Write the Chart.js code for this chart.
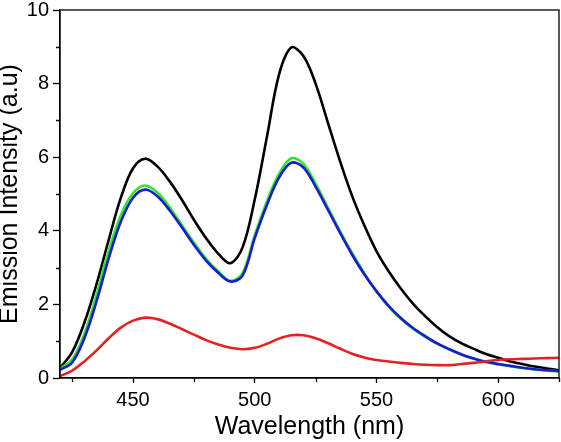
<!DOCTYPE html>
<html>
<head>
<meta charset="utf-8">
<script src="https://cdn.jsdelivr.net/npm/chart.js@4"></script>
<style>
  html, body { margin: 0; padding: 0; background: #fff; }
  #wrap { width: 561px; height: 442px; }
</style>
</head>
<body>
<div id="wrap"><canvas id="chartjs" width="561" height="442"></canvas></div>
<script>
// wavelength (nm)
const wavelengths = [420, 425, 430, 435, 440, 445, 450, 455, 460, 465, 470, 475, 480, 485, 490, 495,
  500, 505, 510, 515, 520, 525, 530, 535, 540, 545, 550, 555, 560, 565, 570, 575, 580, 585, 590,
  595, 600, 605, 610, 615, 620, 625];

const blackSeries = [0.27, 0.70, 1.50, 2.55, 3.75, 4.90, 5.70, 5.96, 5.75, 5.35, 4.85, 4.30, 3.80, 3.38, 3.12, 3.55,
  4.85, 6.55, 8.25, 8.98, 8.75, 8.00, 6.95, 5.90, 4.95, 4.15, 3.45, 2.90, 2.43, 2.02, 1.68, 1.38, 1.13, 0.94, 0.79,
  0.65, 0.55, 0.45, 0.38, 0.31, 0.26, 0.21];

const greenSeries = [0.25, 0.50, 1.20, 2.25, 3.45, 4.42, 5.02, 5.23, 5.04, 4.64, 4.16, 3.68, 3.24, 2.90, 2.64, 2.85,
  3.88, 4.80, 5.55, 5.97, 5.82, 5.28, 4.64, 4.00, 3.40, 2.85, 2.35, 1.94, 1.61, 1.34, 1.12, 0.93, 0.77, 0.63, 0.52,
  0.43, 0.37, 0.32, 0.27, 0.23, 0.20, 0.18];

const blueSeries = [0.22, 0.42, 1.08, 2.08, 3.25, 4.25, 4.90, 5.12, 4.94, 4.56, 4.10, 3.62, 3.19, 2.86, 2.62, 2.78,
  3.80, 4.70, 5.45, 5.85, 5.72, 5.20, 4.58, 3.95, 3.35, 2.82, 2.36, 1.96, 1.63, 1.36, 1.14, 0.94, 0.78, 0.64, 0.53,
  0.44, 0.38, 0.33, 0.28, 0.24, 0.21, 0.19];

const redSeries = [0.05, 0.20, 0.45, 0.75, 1.08, 1.37, 1.56, 1.64, 1.60, 1.48, 1.33, 1.18, 1.03, 0.91, 0.82, 0.78,
  0.82, 0.93, 1.07, 1.16, 1.16, 1.08, 0.95, 0.80, 0.66, 0.56, 0.49, 0.45, 0.41, 0.38, 0.36, 0.35, 0.35, 0.38, 0.41,
  0.45, 0.49, 0.51, 0.52, 0.53, 0.54, 0.55];

// axis ticks
const xMajorTicks = [450, 500, 550, 600];
const xMinorTicks = [425, 475, 525, 575, 625];
const yMajorTicks = [0, 2, 4, 6, 8, 10];
const yMinorTicks = [1, 3, 5, 7, 9];

const toPoints = (ys) => wavelengths.map((x, i) => ({ x: x, y: ys[i] }));

// minor ticks + box frame around the plot
const framePlugin = {
  id: 'frame',
  afterDraw(chart) {
    const c = chart.ctx;
    const a = chart.chartArea;
    const xs = chart.scales.x, ys = chart.scales.y;
    c.save();
    c.strokeStyle = '#000';
    c.lineWidth = 1.3;
    c.beginPath();
    xMinorTicks.forEach(v => {
      const px = Math.round(xs.getPixelForValue(v)) + 0.5;
      c.moveTo(px, a.bottom); c.lineTo(px, a.bottom + 4);
    });
    yMinorTicks.forEach(v => {
      const py = Math.round(ys.getPixelForValue(v)) + 0.5;
      c.moveTo(a.left, py); c.lineTo(a.left - 4, py);
    });
    c.stroke();
    c.strokeRect(a.left, a.top, a.right - a.left, a.bottom - a.top);
    c.restore();
  }
};

const line = { pointRadius: 0, borderWidth: 2.6, tension: 0.35, fill: false };

const ctx = document.getElementById('chartjs').getContext('2d');
const myChart = new Chart(ctx, {
  type: 'line',
  data: {
    datasets: [
      { ...line, label: 'red', data: toPoints(redSeries), borderColor: '#e52222', order: 1 },
      { ...line, label: 'blue', data: toPoints(blueSeries), borderColor: '#1a1ad0', order: 2 },
      { ...line, label: 'green', data: toPoints(greenSeries), borderColor: '#2ee62e', order: 3 },
      { ...line, label: 'black', data: toPoints(blackSeries), borderColor: '#000000', order: 4 }
    ]
  },
  options: {
    responsive: false,
    animation: false,
    events: [],
    layout: { padding: { top: 10, right: 2, left: 0, bottom: 0 } },
    plugins: { legend: { display: false }, tooltip: { enabled: false } },
    scales: {
      x: {
        type: 'linear',
        min: 420,
        max: 625,
        afterBuildTicks: s => { s.ticks = xMajorTicks.map(v => ({ value: v })); },
        afterFit: s => { s.height = 64; s.paddingLeft = 0; s.paddingRight = 0; },
        border: { display: true, color: '#000', width: 1.3 },
        grid: { drawOnChartArea: false, drawTicks: true, tickLength: 5, tickColor: '#000', tickWidth: 1.3 },
        ticks: { color: '#000', padding: 7, maxRotation: 0, font: { family: 'Liberation Sans', size: 20, lineHeight: 1.0 } },
        title: {
          display: true,
          text: 'Wavelength (nm)',
          color: '#000',
          padding: 0,
          font: { family: 'Liberation Sans', size: 25, lineHeight: 1.16 }
        }
      },
      y: {
        min: 0,
        max: 10,
        afterBuildTicks: s => { s.ticks = yMajorTicks.map(v => ({ value: v })); },
        afterFit: s => { s.width = 60; s.paddingTop = 0; s.paddingBottom = 0; },
        border: { display: true, color: '#000', width: 1.3 },
        grid: { drawOnChartArea: false, drawTicks: true, tickLength: 7, tickColor: '#000', tickWidth: 1.3 },
        ticks: { color: '#000', padding: 4, font: { family: 'Liberation Sans', size: 20, lineHeight: 1.0 } },
        title: {
          display: true,
          text: 'Emission Intensity (a.u)',
          color: '#000',
          padding: 0,
          font: { family: 'Liberation Sans', size: 25, lineHeight: 0.84 }
        }
      }
    }
  },
  plugins: [framePlugin]
});
</script>
</body>
</html>
